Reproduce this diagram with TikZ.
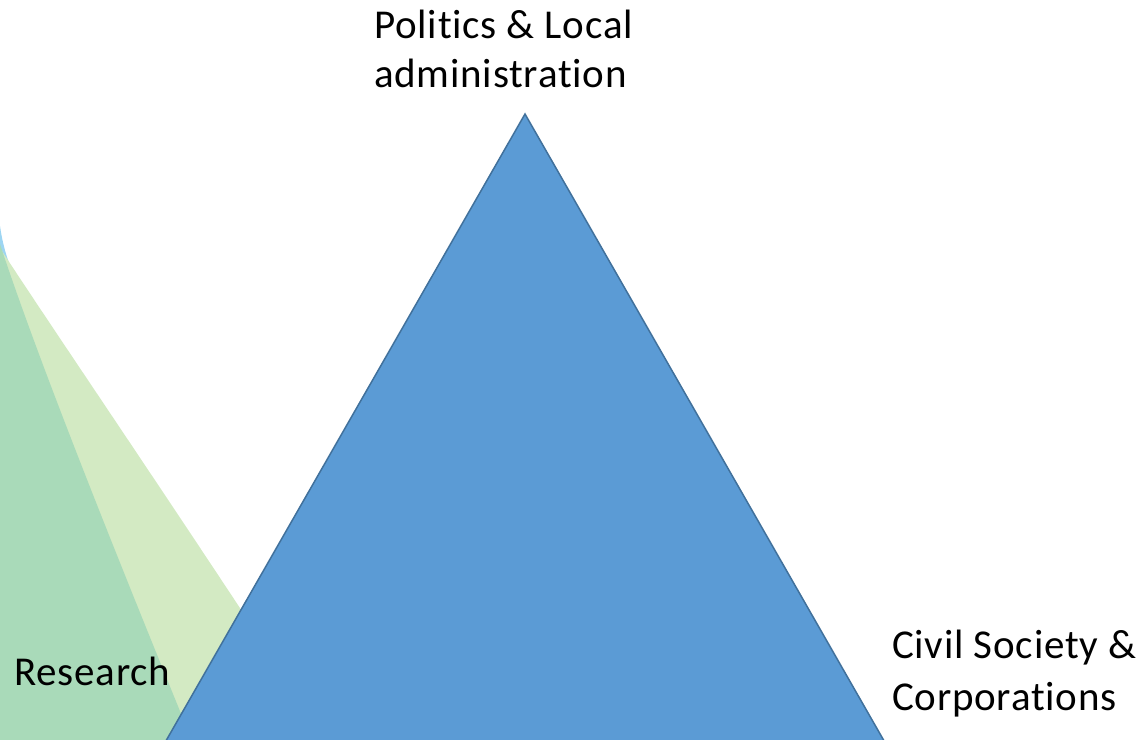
\documentclass[tikz,border=0pt]{standalone}
\usepackage{fontspec}
\setmainfont[LetterSpace=1.9,RawFeature=-liga]{Carlito}
\definecolor{triblue}{HTML}{5B9BD5}
\definecolor{triedge}{HTML}{41719C}
\definecolor{darkgreen}{HTML}{A9DAB9}
\definecolor{palegreen}{HTML}{D3EAC3}
\definecolor{skyblue}{HTML}{9DD5F2}
\tikzset{
  lbl/.style={anchor=base west, inner sep=0pt, font=\fontsize{41}{49}\selectfont, text=black},
}
\begin{document}
\begin{tikzpicture}[x=1pt,y=-1pt]
\useasboundingbox (0,0) rectangle (1140,739);
\clip (0,0) rectangle (1140,739);
% background shapes
\fill[skyblue] (0,226) .. controls (2,240) and (5,252) .. (10,266) -- (0,266) -- cycle;
\fill[palegreen] (0,248) .. controls (60,340) and (170,500) .. (330,745) -- (0,745) -- cycle;
\fill[darkgreen] (0,244) .. controls (38,360) and (118,560) .. (200,760) -- (0,760) -- cycle;
% triangle
\coordinate (apex) at (525,114);
\coordinate (bl) at (155,760);
\coordinate (br) at (895,760);
\draw[fill=triblue, draw=triedge, line width=1.5pt, line join=miter] (apex) -- (br) -- (bl) -- cycle;
% labels
\node[lbl] (pol1) at (374,38) {Politics \& Local};
\node[lbl] (pol2) at (374,87) {administration};
\node[lbl] (res) at (14,685) {Research};
\node[lbl] (civ1) at (892,658) {Civil Society \&};
\node[lbl] (civ2) at (892,710) {Corporations};
\end{tikzpicture}
\end{document}
